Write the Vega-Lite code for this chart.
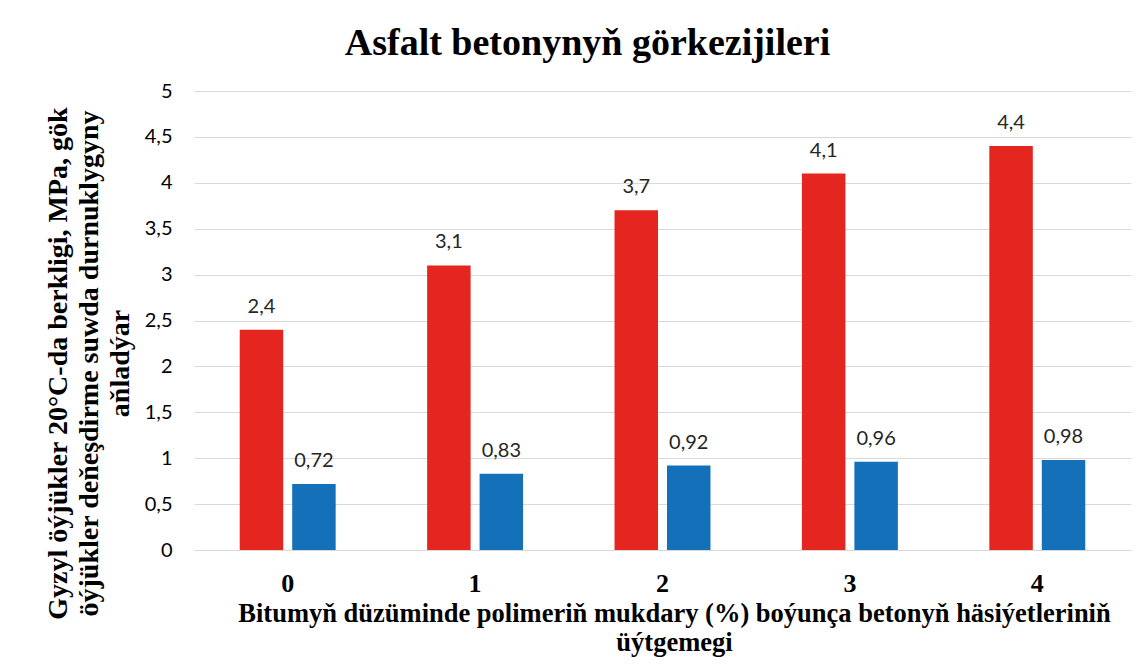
{
  "$schema": "https://vega.github.io/schema/vega-lite/v6.json",
  "width": 937,
  "height": 459,
  "autosize": {"type": "none"},
  "padding": {"left": 194, "top": 91, "right": 16, "bottom": 114},
  "background": "#ffffff",
  "config": {
    "locale": {"number": {"decimal": ",", "thousands": " ", "grouping": [3], "currency": ["", ""]}},
    "view": {"stroke": null}
  },
  "title": {
    "text": "Asfalt betonynyň görkezijileri",
    "font": "Liberation Serif",
    "fontSize": 38,
    "fontWeight": "bold",
    "color": "#000000",
    "anchor": "middle",
    "offset": 18,
    "dx": -75
  },
  "data": {
    "values": [
      {"polimer": "0", "series": "Gyzyl", "value": 2.4},
      {"polimer": "0", "series": "Gök", "value": 0.72},
      {"polimer": "1", "series": "Gyzyl", "value": 3.1},
      {"polimer": "1", "series": "Gök", "value": 0.83},
      {"polimer": "2", "series": "Gyzyl", "value": 3.7},
      {"polimer": "2", "series": "Gök", "value": 0.92},
      {"polimer": "3", "series": "Gyzyl", "value": 4.1},
      {"polimer": "3", "series": "Gök", "value": 0.96},
      {"polimer": "4", "series": "Gyzyl", "value": 4.4},
      {"polimer": "4", "series": "Gök", "value": 0.98}
    ]
  },
  "encoding": {
    "x": {
      "field": "polimer",
      "type": "nominal",
      "scale": {"paddingInner": 0.488, "paddingOuter": 0.244},
      "axis": {
        "title": ["Bitumyň düzüminde polimeriň mukdary (%) boýunça betonyň häsiýetleriniň", "üýtgemegi"],
        "labelAngle": 0,
        "labelFont": "Liberation Serif",
        "labelFontWeight": "bold",
        "labelFontSize": 26,
        "labelColor": "#000000",
        "labelPadding": 20,
        "ticks": false,
        "domain": false,
        "titleFont": "Liberation Serif",
        "titleFontSize": 26.5,
        "titleFontWeight": "bold",
        "titleColor": "#000000",
        "titleLineHeight": 29,
        "titlePadding": 4,
        "titleX": 480
      }
    },
    "xOffset": {
      "field": "series",
      "type": "nominal",
      "sort": ["Gyzyl", "Gök"],
      "scale": {"paddingInner": 0.171, "paddingOuter": 0}
    },
    "y": {
      "field": "value",
      "type": "quantitative",
      "scale": {"domain": [0, 5], "nice": false},
      "axis": {
        "title": ["Gyzyl öýjükler 20°C-da berkligi, MPa, gök", "öýjükler deňeşdirme suwda durnuklygyny", "aňladýar"],
        "values": [0, 0.5, 1, 1.5, 2, 2.5, 3, 3.5, 4, 4.5, 5],
        "format": ".1~f",
        "grid": true,
        "gridColor": "#d9d9d9",
        "gridWidth": 1,
        "domain": false,
        "ticks": false,
        "labelFont": "Lato",
        "labelFontSize": 20,
        "labelColor": "#000000",
        "labelPadding": 22,
        "titleFont": "Liberation Serif",
        "titleFontSize": 28,
        "titleFontWeight": "bold",
        "titleColor": "#000000",
        "titleLineHeight": 31,
        "titlePadding": 10,
        "titleY": 272
      }
    }
  },
  "layer": [
    {
      "mark": {"type": "bar"},
      "encoding": {
        "color": {
          "field": "series",
          "type": "nominal",
          "scale": {"domain": ["Gyzyl", "Gök"], "range": ["#E52620", "#1570BA"]},
          "legend": null
        }
      }
    },
    {
      "mark": {"type": "text", "baseline": "alphabetic", "dy": -17, "font": "Lato", "fontSize": 20, "color": "#262626"},
      "encoding": {
        "text": {"field": "value", "type": "quantitative", "format": ".2~f"}
      }
    }
  ]
}
